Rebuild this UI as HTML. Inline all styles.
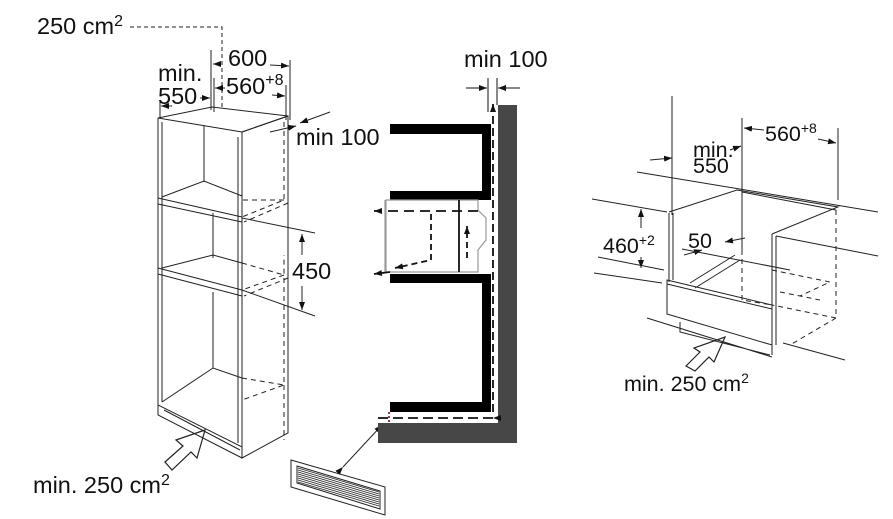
<!DOCTYPE html>
<html><head><meta charset="utf-8"><style>
html,body{margin:0;padding:0;background:#fff}
svg{display:block}
text{font-family:"Liberation Sans",sans-serif;fill:#111}
</style></head><body>
<svg width="893" height="519" viewBox="0 0 893 519" xmlns="http://www.w3.org/2000/svg">
<defs>
<marker id="a" markerWidth="8" markerHeight="6" refX="8" refY="3" orient="auto" markerUnits="userSpaceOnUse"><path d="M0,0 L8,3 L0,6z" fill="#111"/></marker>
</defs>
<g stroke="#222" stroke-width="1" fill="none">
<path d="M158,118 L212,107 L288,116 L242,132 Z"/>
<path d="M158,118 L158,405 L242,447 L242,132"/>
<path d="M162,122 L162,402 M238,137 L238,443"/>
<path d="M242,132 L288,116 L288,405"/>
<path d="M204,126 L204,182 M213,213 L213,258 M213,292 L213,368"/>
<path d="M158,198 L242,217 M158,204 L242,222 M162,197 L204,181 L242,196"/>
<path d="M158,268 L242,290 M158,274 L242,296 M162,268 L213,255 L242,263"/>
<path d="M162,402 L213,368 L242,378"/>
<path d="M242,447 L242,458 L288,433 L288,405 M158,405 L158,415 L242,458"/>
<path d="M164,410 L240,450" />
<g stroke-dasharray="5,4">
<path d="M284,122 L284,200 L242,217 M284,200 L242,200 M288,203 L244,222"/>
<path d="M242,263 L284,275 L284,255 M284,275 L242,290 M288,278 L244,296"/>
<path d="M284,278 L284,385 L242,400 M242,378 L284,385 M284,385 L284,440"/>
</g>
<path d="M130,27 L222,27 L222,110" stroke-dasharray="4,3"/>
<path d="M211,50 L211,110 M214,78 L214,112 M290,60 L290,120 M286,85 L286,120 M160,100 L160,118"/>
<path d="M220,64 L213,64" marker-end="url(#a)"/><path d="M270,65 L289,66" marker-end="url(#a)"/>
<path d="M225,88 L215,88" marker-end="url(#a)"/><path d="M272,95 L285,96" marker-end="url(#a)"/>
<path d="M200,98 L210,98" marker-end="url(#a)"/><path d="M172,106 L161,106" marker-end="url(#a)"/>
<path d="M330,112 L300,123" marker-end="url(#a)"/><path d="M270,132 L296,126" marker-end="url(#a)"/>
<path d="M242,218 L315,233 M242,290 L315,316"/>
<path d="M302,255 L302,234" marker-end="url(#a)"/><path d="M302,286 L302,310" marker-end="url(#a)"/>
<path d="M165,462 L183,446 L176,440 L205,430 L197,458 L191,452 L172,470 Z" stroke-width="1.2"/>
<path d="M291,460 L385,487 L385,515 L291,487 Z"/>
<path d="M297,466 L380,491 L380,509 L297,483 Z"/>
<g stroke-width="0.8"><path d="M298,468 L379,492 M298,470 L379,494 M298,472 L379,496 M298,474 L379,498 M298,476 L379,500 M298,478 L379,502 M298,480 L379,504 M298,482 L379,506"/></g>
<path d="M343,467 L382,425" marker-end="url(#a)" marker-start="url(#a)"/>
</g>
<g fill="#474747"><rect x="498" y="105" width="19" height="338"/><rect x="378" y="423" width="139" height="20"/></g>
<g fill="#000">
<rect x="390" y="124" width="101" height="10"/><rect x="482" y="124" width="9" height="76"/><rect x="390" y="191" width="101" height="9"/>
<rect x="390" y="274" width="101" height="9"/><rect x="482" y="274" width="9" height="138"/><rect x="390" y="402" width="101" height="10"/>
</g>
<g fill="none" stroke="#999" stroke-width="1.2">
<path d="M386,200 L478,200 L478,210 L486,218 L486,240 L478,250 L478,272 L386,272 Z"/>
<path d="M385,200 L385,272"/>
</g>
<g fill="none" stroke="#111" stroke-width="1.8">
<path d="M459,200 L459,272"/>
<path d="M493,412 L493,104" stroke-dasharray="8,4" marker-end="url(#a)"/>
<path d="M493,418 L378,418" stroke-dasharray="10,5" marker-start="url(#a)"/>
<path d="M478,211 L374,211" stroke-dasharray="10,6" marker-end="url(#a)"/>
<path d="M431,214 L431,260 L395,268" stroke-dasharray="6,4" marker-end="url(#a)"/>
<path d="M467,258 L467,226" stroke-dasharray="6,4" marker-end="url(#a)"/>
<path d="M390,272 L374,274" marker-end="url(#a)"/>
</g>
<g fill="none" stroke="#111" stroke-width="1">
<path d="M488,78 L488,112 M497,78 L497,105"/>
<path d="M466,88 L487,88" marker-end="url(#a)"/><path d="M520,88 L498,88" marker-end="url(#a)"/>
</g>
<path d="M389,412 L389,422" stroke="#a03060" stroke-width="2" stroke-dasharray="2,2"/>
<g stroke="#222" stroke-width="1" fill="none">
<path d="M637,172 L878,212 M592,199 L667,212 M598,257 L664,270 M776,236 L878,256"/>
<path d="M669,213 L669,282 M673,213 L673,280"/>
<path d="M669,212 L737,190 L838,207 L772,234 M742,192 L836,210"/>
<path d="M772,234 L772,355 M776,236 L776,345"/>
<path d="M667,280 L772,305 L772,345 L667,314 Z M667,284 L772,309"/>
<path d="M690,283 L735,255 M695,288 L740,260"/>
<path d="M647,318 L772,357 M680,322 L680,332 L770,355 M783,343 L845,360"/>
<path d="M672,96 L672,215 M742,118 L742,250 M838,128 L838,200"/>
<path d="M650,160 L672,158" marker-end="url(#a)"/><path d="M730,150 L741,146" marker-end="url(#a)"/>
<path d="M764,130 L744,128" marker-end="url(#a)"/><path d="M818,139 L836,143" marker-end="url(#a)"/>
<path d="M641,228 L641,209" marker-end="url(#a)"/><path d="M641,257 L641,268" marker-end="url(#a)"/>
<path d="M594,273 L662,283"/>
<path d="M684,255 L702,250" marker-end="url(#a)"/><path d="M745,238 L725,242" marker-end="url(#a)"/>
<path d="M682,249 L790,270"/>
<path d="M686,366 L700,352 L694,348 L725,337 L714,362 L709,357 L695,371 Z" stroke-width="1.2"/>
<g stroke-dasharray="5,4">
<path d="M836,210 L836,318 L772,305 M742,250 L742,300 L772,305 M836,318 L790,345 M772,270 L830,282 L800,296 M780,292 L820,300"/>
</g>
</g>
<g font-size="23.5">
<text x="37" y="34">250 cm<tspan font-size="16" dy="-8">2</tspan></text>
<text x="228" y="66">600</text>
<text x="226" y="94">560<tspan font-size="16" dy="-9">+8</tspan></text>
<text x="158" y="81">min.</text>
<text x="158" y="104">550</text>
<text x="296" y="145">min 100</text>
<text x="292" y="279">450</text>
<text x="33" y="493">min. 250 cm<tspan font-size="16" dy="-8">2</tspan></text>
<text x="464" y="67">min 100</text>
<text x="765" y="141" font-size="21.5">560<tspan font-size="14" dy="-8">+8</tspan></text>
<text x="693" y="157" font-size="21.5">min.</text>
<text x="693" y="173" font-size="21.5">550</text>
<text x="688" y="248" font-size="21.5">50</text>
<text x="603" y="253" font-size="21.5">460<tspan font-size="14" dy="-8">+2</tspan></text>
<text x="624" y="391" font-size="21.5">min. 250 cm<tspan font-size="14" dy="-8">2</tspan></text>
</g>
</svg>
</body></html>
